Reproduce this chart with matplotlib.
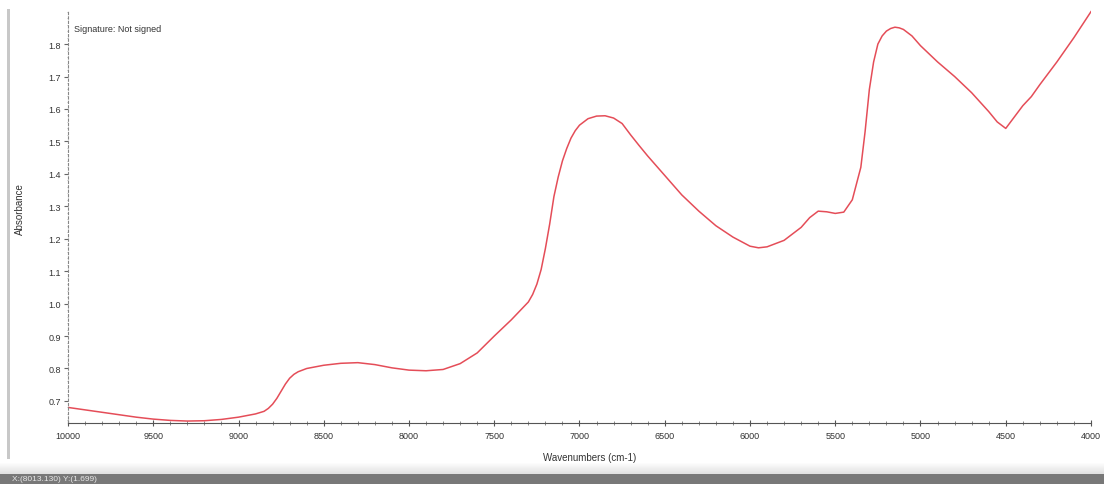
import numpy as np
import matplotlib
matplotlib.use("Agg")
import matplotlib.pyplot as plt
from matplotlib.patches import Rectangle
from matplotlib.ticker import MultipleLocator, FormatStrFormatter

plt.rcParams['font.family'] = ['Liberation Sans', 'DejaVu Sans']

wavenumbers = [10000, 9800, 9600, 9500, 9400, 9300, 9200, 9100, 9000, 8900,
               8850, 8825, 8800, 8775, 8750, 8725, 8700, 8675, 8650, 8600,
               8500, 8400, 8300, 8200, 8100, 8000, 7900, 7800, 7700, 7600,
               7500, 7400, 7300, 7275, 7250, 7225, 7200, 7175, 7150, 7125,
               7100, 7075, 7050, 7025, 7000, 6950, 6900, 6850, 6800, 6750,
               6700, 6650, 6600, 6550, 6500, 6450, 6400, 6350, 6300, 6200,
               6100, 6000, 5950, 5900, 5800, 5700, 5650, 5600, 5550, 5500,
               5450, 5400, 5350, 5325, 5300, 5275, 5250, 5225, 5200, 5175,
               5150, 5125, 5100, 5050, 5000, 4900, 4800, 4700, 4600, 4550,
               4500, 4450, 4400, 4350, 4300, 4200, 4100, 4000]
absorbance = [0.680, 0.665, 0.650, 0.644, 0.640, 0.638, 0.639, 0.643, 0.650, 0.660,
              0.668, 0.677, 0.690, 0.708, 0.730, 0.752, 0.770, 0.782, 0.790, 0.800,
              0.810, 0.816, 0.818, 0.812, 0.802, 0.795, 0.793, 0.797, 0.815, 0.848,
              0.900, 0.950, 1.005, 1.028, 1.060, 1.105, 1.170, 1.245, 1.330, 1.390,
              1.440, 1.478, 1.510, 1.533, 1.550, 1.570, 1.578, 1.579, 1.572, 1.555,
              1.520, 1.487, 1.455, 1.425, 1.395, 1.365, 1.335, 1.310, 1.285, 1.240,
              1.205, 1.177, 1.172, 1.175, 1.195, 1.235, 1.265, 1.285, 1.283, 1.278,
              1.282, 1.320, 1.420, 1.530, 1.660, 1.745, 1.800, 1.825, 1.840, 1.848,
              1.852, 1.850, 1.845, 1.825, 1.795, 1.745, 1.700, 1.650, 1.592, 1.560,
              1.540, 1.575, 1.610, 1.638, 1.675, 1.745, 1.820, 1.900]

x_ticks = [10000, 9500, 9000, 8500, 8000, 7500, 7000, 6500, 6000, 5500, 5000, 4500, 4000]
y_ticks = [0.7, 0.8, 0.9, 1.0, 1.1, 1.2, 1.3, 1.4, 1.5, 1.6, 1.7, 1.8]

fig = plt.figure(figsize=(11.04, 4.85), dpi=100)
ax = fig.add_axes([68/1104, 1-424/485, (1091-68)/1104, (424-11)/485])

ax.plot(wavenumbers, absorbance, color='#e23a46', lw=1.1, alpha=0.9)

ax.set_xlim(10000, 4000)
ax.set_ylim(0.632, 1.905)
ax.set_xticks(x_ticks)
ax.set_xticklabels([str(t) for t in x_ticks])
ax.set_yticks(y_ticks)
ax.yaxis.set_major_formatter(FormatStrFormatter('%.1f'))
ax.xaxis.set_minor_locator(MultipleLocator(100))
ax.yaxis.set_minor_locator(MultipleLocator(0.02))

for s in ['top', 'right']:
    ax.spines[s].set_visible(False)
ax.spines['left'].set_color('#888888')
ax.spines['left'].set_linestyle((0, (2, 2)))
ax.spines['left'].set_linewidth(0.8)
ax.spines['bottom'].set_color('#555555')
ax.spines['bottom'].set_linewidth(0.8)

ax.tick_params(axis='x', which='major', direction='inout', length=4, width=0.8,
               color='#555555', labelsize=6.5, labelcolor='#333333', pad=4)
ax.tick_params(axis='x', which='minor', direction='inout', length=2.5, width=0.6,
               color='#777777')
ax.tick_params(axis='y', which='major', direction='out', length=3, width=0.8,
               color='#666666', labelsize=6.5, labelcolor='#333333', pad=2)
ax.tick_params(axis='y', which='minor', direction='out', length=1, width=0.5,
               color='#999999')

ax.set_xlabel('Wavenumbers (cm-1)', fontsize=7, color='#333333')
ax.xaxis.set_label_coords(0.51, -0.07)
ax.set_ylabel('Absorbance', fontsize=7, color='#333333')
ax.yaxis.set_label_coords(-0.042, 0.52)

ax.text(0.006, 0.955, 'Signature: Not signed', transform=ax.transAxes,
        fontsize=6.5, color='#333333', ha='left', va='center')

# window decorations
fig.add_artist(Rectangle((7/1104, 1-460/485), 3/1104, 450/485,
                         transform=fig.transFigure, color='#c8c8c8', lw=0, zorder=-1))
n = 12
for i in range(n):
    y0 = 463 + i * (12 / n)
    g = 1.0 - 0.13 * i / n
    fig.add_artist(Rectangle((0, 1-(y0+12/n)/485), 1, (12/n)/485,
                             transform=fig.transFigure, color=(g, g, g), lw=0, zorder=-1))
fig.add_artist(Rectangle((0, 0), 1, 10/485, transform=fig.transFigure,
                         color='#787878', lw=0, zorder=-1))
fig.text(12/1104, 1-480/485, 'X:(8013.130) Y:(1.699)', fontsize=6,
         color='#e8e8e8', ha='left', va='center')

fig.savefig('out.png', dpi=100)
